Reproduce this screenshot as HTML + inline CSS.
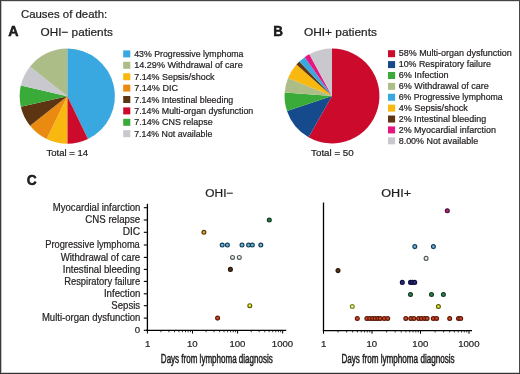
<!DOCTYPE html>
<html><head><meta charset="utf-8"><style>
html,body{margin:0;padding:0;background:#fff;}
svg{display:block;will-change:transform;}
text{font-family:"Liberation Sans", sans-serif;fill:#231f20;stroke:#231f20;stroke-width:0.22px;}
</style></head><body>
<svg width="520" height="374" viewBox="0 0 520 374">

<rect x="0" y="0" width="520" height="374" fill="#fff"/>
<text x="20.92" y="17.85" font-size="11.6" textLength="86.32" lengthAdjust="spacingAndGlyphs">Causes of death:</text>
<text x="8.24" y="36.20" font-size="14.0" textLength="10.33" lengthAdjust="spacingAndGlyphs" font-weight="bold" fill="#000" style="stroke:#000;stroke-width:0.45px">A</text>
<text x="40.55" y="35.60" font-size="11.6" textLength="72.28" lengthAdjust="spacingAndGlyphs">OHI− patients</text>
<text x="273.20" y="36.20" font-size="14.6" textLength="9.71" lengthAdjust="spacingAndGlyphs" font-weight="bold" fill="#000" style="stroke:#000;stroke-width:0.45px">B</text>
<text x="303.94" y="35.70" font-size="11.6" textLength="72.99" lengthAdjust="spacingAndGlyphs">OHI+ patients</text>
<path d="M67.30,96.15L67.30,48.50A47.65,47.65 0 0 1 87.97,139.08Z" fill="#3aa8e0"/>
<path d="M67.30,96.15L87.97,139.08A47.65,47.65 0 0 1 67.30,143.80Z" fill="#cc0a2c"/>
<path d="M67.30,96.15L67.30,143.80A47.65,47.65 0 0 1 46.63,139.08Z" fill="#f8b810"/>
<path d="M67.30,96.15L46.63,139.08A47.65,47.65 0 0 1 30.05,125.86Z" fill="#eb8a10"/>
<path d="M67.30,96.15L30.05,125.86A47.65,47.65 0 0 1 20.84,106.75Z" fill="#5e3512"/>
<path d="M67.30,96.15L20.84,106.75A47.65,47.65 0 0 1 20.84,85.55Z" fill="#3aaa38"/>
<path d="M67.30,96.15L20.84,85.55A47.65,47.65 0 0 1 30.05,66.44Z" fill="#c9c8ce"/>
<path d="M67.30,96.15L30.05,66.44A47.65,47.65 0 0 1 67.30,48.50Z" fill="#adbd87"/>
<path d="M332.00,96.00L332.00,48.55A47.45,47.45 0 1 1 308.56,137.26Z" fill="#cc0a2c"/>
<path d="M332.00,96.00L308.56,137.26A47.45,47.45 0 0 1 286.98,110.98Z" fill="#154b8c"/>
<path d="M332.00,96.00L286.98,110.98A47.45,47.45 0 0 1 284.68,92.52Z" fill="#3aaa38"/>
<path d="M332.00,96.00L284.68,92.52A47.45,47.45 0 0 1 288.07,78.07Z" fill="#adbd87"/>
<path d="M332.00,96.00L288.07,78.07A47.45,47.45 0 0 1 296.46,64.56Z" fill="#f8b810"/>
<path d="M332.00,96.00L296.46,64.56A47.45,47.45 0 0 1 299.34,61.58Z" fill="#5e3512"/>
<path d="M332.00,96.00L299.34,61.58A47.45,47.45 0 0 1 304.78,57.13Z" fill="#3aa8e0"/>
<path d="M332.00,96.00L304.78,57.13A47.45,47.45 0 0 1 309.36,54.30Z" fill="#e6157f"/>
<path d="M332.00,96.00L309.36,54.30A47.45,47.45 0 0 1 332.00,48.55Z" fill="#c9c8ce"/>
<rect x="123.2" y="50.40" width="7.1" height="7" fill="#3aa8e0"/>
<text x="134.21" y="57.00" font-size="9.2" textLength="109.29" lengthAdjust="spacingAndGlyphs">43% Progressive lymphoma</text>
<rect x="123.2" y="61.80" width="7.1" height="7" fill="#adbd87"/>
<text x="134.21" y="68.40" font-size="9.2" textLength="108.49" lengthAdjust="spacingAndGlyphs">14.29% Withdrawal of care</text>
<rect x="123.2" y="73.20" width="7.1" height="7" fill="#f8b810"/>
<text x="134.21" y="79.80" font-size="9.2" textLength="80.38" lengthAdjust="spacingAndGlyphs">7.14% Sepsis/shock</text>
<rect x="123.2" y="84.60" width="7.1" height="7" fill="#eb8a10"/>
<text x="134.21" y="91.20" font-size="9.2" textLength="43.84" lengthAdjust="spacingAndGlyphs">7.14% DIC</text>
<rect x="123.2" y="96.00" width="7.1" height="7" fill="#5e3512"/>
<text x="134.22" y="102.60" font-size="9.2" textLength="99.05" lengthAdjust="spacingAndGlyphs">7.14% Intestinal bleeding</text>
<rect x="123.2" y="107.40" width="7.1" height="7" fill="#cc0a2c"/>
<text x="134.22" y="114.00" font-size="9.2" textLength="119.05" lengthAdjust="spacingAndGlyphs">7.14% Multi-organ dysfunction</text>
<rect x="123.2" y="118.80" width="7.1" height="7" fill="#3aaa38"/>
<text x="134.21" y="125.40" font-size="9.2" textLength="78.48" lengthAdjust="spacingAndGlyphs">7.14% CNS relapse</text>
<rect x="123.2" y="130.20" width="7.1" height="7" fill="#c9c8ce"/>
<text x="134.22" y="136.80" font-size="9.2" textLength="78.07" lengthAdjust="spacingAndGlyphs">7.14% Not available</text>
<rect x="388.0" y="50.20" width="7.1" height="7" fill="#cc0a2c"/>
<text x="398.71" y="56.45" font-size="9.2" textLength="113.07" lengthAdjust="spacingAndGlyphs">58% Multi-organ dysfunction</text>
<rect x="388.0" y="61.09" width="7.1" height="7" fill="#154b8c"/>
<text x="398.73" y="67.34" font-size="9.2" textLength="92.17" lengthAdjust="spacingAndGlyphs">10% Respiratory failure</text>
<rect x="388.0" y="71.98" width="7.1" height="7" fill="#3aaa38"/>
<text x="398.71" y="78.23" font-size="9.2" textLength="49.89" lengthAdjust="spacingAndGlyphs">6% Infection</text>
<rect x="388.0" y="82.87" width="7.1" height="7" fill="#adbd87"/>
<text x="398.71" y="89.12" font-size="9.2" textLength="90.09" lengthAdjust="spacingAndGlyphs">6% Withdrawal of care</text>
<rect x="388.0" y="93.76" width="7.1" height="7" fill="#3aa8e0"/>
<text x="398.72" y="100.01" font-size="9.2" textLength="103.98" lengthAdjust="spacingAndGlyphs">6% Progressive lymphoma</text>
<rect x="388.0" y="104.65" width="7.1" height="7" fill="#f8b810"/>
<text x="398.70" y="110.90" font-size="9.2" textLength="69.19" lengthAdjust="spacingAndGlyphs">4% Sepsis/shock</text>
<rect x="388.0" y="115.54" width="7.1" height="7" fill="#5e3512"/>
<text x="398.71" y="121.79" font-size="9.2" textLength="87.46" lengthAdjust="spacingAndGlyphs">2% Intestinal bleeding</text>
<rect x="388.0" y="126.43" width="7.1" height="7" fill="#e6157f"/>
<text x="398.71" y="132.68" font-size="9.2" textLength="97.27" lengthAdjust="spacingAndGlyphs">2% Myocardial infarction</text>
<rect x="388.0" y="137.32" width="7.1" height="7" fill="#c9c8ce"/>
<text x="398.71" y="143.57" font-size="9.2" textLength="79.39" lengthAdjust="spacingAndGlyphs">8.00% Not available</text>
<text x="46.49" y="155.80" font-size="9.3" textLength="41.69" lengthAdjust="spacingAndGlyphs">Total = 14</text>
<text x="311.09" y="155.80" font-size="9.3" textLength="42.60" lengthAdjust="spacingAndGlyphs">Total = 50</text>
<text x="26.84" y="184.90" font-size="14.6" textLength="9.94" lengthAdjust="spacingAndGlyphs" font-weight="bold" fill="#000" style="stroke:#000;stroke-width:0.45px">C</text>
<text x="205.34" y="196.90" font-size="11.7" textLength="28.04" lengthAdjust="spacingAndGlyphs">OHI−</text>
<text x="381.21" y="196.90" font-size="11.7" textLength="29.81" lengthAdjust="spacingAndGlyphs">OHI+</text>
<line x1="147.4" y1="203.8" x2="147.4" y2="331.0" stroke="#000" stroke-width="1.3"/>
<line x1="146.20000000000002" y1="330.35" x2="286.2" y2="330.35" stroke="#000" stroke-width="1.3"/>
<line x1="147.40" y1="330.35" x2="147.40" y2="333.55" stroke="#000" stroke-width="1"/>
<line x1="160.98" y1="330.35" x2="160.98" y2="332.25" stroke="#000" stroke-width="0.8"/>
<line x1="168.92" y1="330.35" x2="168.92" y2="332.25" stroke="#000" stroke-width="0.8"/>
<line x1="174.55" y1="330.35" x2="174.55" y2="332.25" stroke="#000" stroke-width="0.8"/>
<line x1="178.92" y1="330.35" x2="178.92" y2="332.25" stroke="#000" stroke-width="0.8"/>
<line x1="182.49" y1="330.35" x2="182.49" y2="332.25" stroke="#000" stroke-width="0.8"/>
<line x1="185.51" y1="330.35" x2="185.51" y2="332.25" stroke="#000" stroke-width="0.8"/>
<line x1="188.13" y1="330.35" x2="188.13" y2="332.25" stroke="#000" stroke-width="0.8"/>
<line x1="190.44" y1="330.35" x2="190.44" y2="332.25" stroke="#000" stroke-width="0.8"/>
<text x="144.90" y="346.50" font-size="9.6">1</text>
<line x1="192.50" y1="330.35" x2="192.50" y2="333.55" stroke="#000" stroke-width="1"/>
<line x1="206.08" y1="330.35" x2="206.08" y2="332.25" stroke="#000" stroke-width="0.8"/>
<line x1="214.02" y1="330.35" x2="214.02" y2="332.25" stroke="#000" stroke-width="0.8"/>
<line x1="219.65" y1="330.35" x2="219.65" y2="332.25" stroke="#000" stroke-width="0.8"/>
<line x1="224.02" y1="330.35" x2="224.02" y2="332.25" stroke="#000" stroke-width="0.8"/>
<line x1="227.59" y1="330.35" x2="227.59" y2="332.25" stroke="#000" stroke-width="0.8"/>
<line x1="230.61" y1="330.35" x2="230.61" y2="332.25" stroke="#000" stroke-width="0.8"/>
<line x1="233.23" y1="330.35" x2="233.23" y2="332.25" stroke="#000" stroke-width="0.8"/>
<line x1="235.54" y1="330.35" x2="235.54" y2="332.25" stroke="#000" stroke-width="0.8"/>
<text x="186.98" y="346.50" font-size="9.6">10</text>
<line x1="237.60" y1="330.35" x2="237.60" y2="333.55" stroke="#000" stroke-width="1"/>
<line x1="251.18" y1="330.35" x2="251.18" y2="332.25" stroke="#000" stroke-width="0.8"/>
<line x1="259.12" y1="330.35" x2="259.12" y2="332.25" stroke="#000" stroke-width="0.8"/>
<line x1="264.75" y1="330.35" x2="264.75" y2="332.25" stroke="#000" stroke-width="0.8"/>
<line x1="269.12" y1="330.35" x2="269.12" y2="332.25" stroke="#000" stroke-width="0.8"/>
<line x1="272.69" y1="330.35" x2="272.69" y2="332.25" stroke="#000" stroke-width="0.8"/>
<line x1="275.71" y1="330.35" x2="275.71" y2="332.25" stroke="#000" stroke-width="0.8"/>
<line x1="278.33" y1="330.35" x2="278.33" y2="332.25" stroke="#000" stroke-width="0.8"/>
<line x1="280.64" y1="330.35" x2="280.64" y2="332.25" stroke="#000" stroke-width="0.8"/>
<text x="229.42" y="346.50" font-size="9.6">100</text>
<line x1="282.70" y1="330.35" x2="282.70" y2="333.55" stroke="#000" stroke-width="1"/>
<text x="271.85" y="346.50" font-size="9.6">1000</text>
<line x1="143.8" y1="207.70" x2="147.4" y2="207.70" stroke="#000" stroke-width="1.1"/>
<text x="52.82" y="210.80" font-size="10.4" textLength="87.61" lengthAdjust="spacingAndGlyphs">Myocardial infarction</text>
<line x1="143.8" y1="220.00" x2="147.4" y2="220.00" stroke="#000" stroke-width="1.1"/>
<text x="85.21" y="223.10" font-size="10.4" textLength="55.02" lengthAdjust="spacingAndGlyphs">CNS relapse</text>
<line x1="143.8" y1="232.30" x2="147.4" y2="232.30" stroke="#000" stroke-width="1.1"/>
<text x="122.67" y="235.40" font-size="10.4" textLength="17.52" lengthAdjust="spacingAndGlyphs">DIC</text>
<line x1="143.8" y1="245.00" x2="147.4" y2="245.00" stroke="#000" stroke-width="1.1"/>
<text x="45.24" y="248.10" font-size="10.4" textLength="94.57" lengthAdjust="spacingAndGlyphs">Progressive lymphoma</text>
<line x1="143.8" y1="257.40" x2="147.4" y2="257.40" stroke="#000" stroke-width="1.1"/>
<text x="60.65" y="260.50" font-size="10.4" textLength="79.57" lengthAdjust="spacingAndGlyphs">Withdrawal of care</text>
<line x1="143.8" y1="269.40" x2="147.4" y2="269.40" stroke="#000" stroke-width="1.1"/>
<text x="62.81" y="272.50" font-size="10.4" textLength="77.61" lengthAdjust="spacingAndGlyphs">Intestinal bleeding</text>
<line x1="143.8" y1="281.40" x2="147.4" y2="281.40" stroke="#000" stroke-width="1.1"/>
<text x="64.23" y="284.50" font-size="10.4" textLength="75.98" lengthAdjust="spacingAndGlyphs">Respiratory failure</text>
<line x1="143.8" y1="293.80" x2="147.4" y2="293.80" stroke="#000" stroke-width="1.1"/>
<text x="103.91" y="296.90" font-size="10.4" textLength="36.52" lengthAdjust="spacingAndGlyphs">Infection</text>
<line x1="143.8" y1="305.70" x2="147.4" y2="305.70" stroke="#000" stroke-width="1.1"/>
<text x="111.36" y="308.80" font-size="10.4" textLength="28.79" lengthAdjust="spacingAndGlyphs">Sepsis</text>
<line x1="143.8" y1="318.10" x2="147.4" y2="318.10" stroke="#000" stroke-width="1.1"/>
<text x="41.92" y="321.20" font-size="10.4" textLength="98.50" lengthAdjust="spacingAndGlyphs">Multi-organ dysfunction</text>
<line x1="143.8" y1="330.30" x2="147.4" y2="330.30" stroke="#000" stroke-width="1.1"/>
<text x="134.84" y="333.40" font-size="9.6">0</text>
<line x1="323.5" y1="202.5" x2="323.5" y2="331.2" stroke="#000" stroke-width="1.3"/>
<line x1="322.85" y1="330.55" x2="472.0" y2="330.55" stroke="#000" stroke-width="1.3"/>
<line x1="323.50" y1="330.55" x2="323.50" y2="333.75" stroke="#000" stroke-width="1"/>
<line x1="338.10" y1="330.55" x2="338.10" y2="332.45" stroke="#000" stroke-width="0.8"/>
<line x1="346.64" y1="330.55" x2="346.64" y2="332.45" stroke="#000" stroke-width="0.8"/>
<line x1="352.70" y1="330.55" x2="352.70" y2="332.45" stroke="#000" stroke-width="0.8"/>
<line x1="357.40" y1="330.55" x2="357.40" y2="332.45" stroke="#000" stroke-width="0.8"/>
<line x1="361.24" y1="330.55" x2="361.24" y2="332.45" stroke="#000" stroke-width="0.8"/>
<line x1="364.49" y1="330.55" x2="364.49" y2="332.45" stroke="#000" stroke-width="0.8"/>
<line x1="367.30" y1="330.55" x2="367.30" y2="332.45" stroke="#000" stroke-width="0.8"/>
<line x1="369.78" y1="330.55" x2="369.78" y2="332.45" stroke="#000" stroke-width="0.8"/>
<text x="321.00" y="346.50" font-size="9.6">1</text>
<line x1="372.00" y1="330.55" x2="372.00" y2="333.75" stroke="#000" stroke-width="1"/>
<line x1="386.60" y1="330.55" x2="386.60" y2="332.45" stroke="#000" stroke-width="0.8"/>
<line x1="395.14" y1="330.55" x2="395.14" y2="332.45" stroke="#000" stroke-width="0.8"/>
<line x1="401.20" y1="330.55" x2="401.20" y2="332.45" stroke="#000" stroke-width="0.8"/>
<line x1="405.90" y1="330.55" x2="405.90" y2="332.45" stroke="#000" stroke-width="0.8"/>
<line x1="409.74" y1="330.55" x2="409.74" y2="332.45" stroke="#000" stroke-width="0.8"/>
<line x1="412.99" y1="330.55" x2="412.99" y2="332.45" stroke="#000" stroke-width="0.8"/>
<line x1="415.80" y1="330.55" x2="415.80" y2="332.45" stroke="#000" stroke-width="0.8"/>
<line x1="418.28" y1="330.55" x2="418.28" y2="332.45" stroke="#000" stroke-width="0.8"/>
<text x="366.48" y="346.50" font-size="9.6">10</text>
<line x1="420.50" y1="330.55" x2="420.50" y2="333.75" stroke="#000" stroke-width="1"/>
<line x1="435.10" y1="330.55" x2="435.10" y2="332.45" stroke="#000" stroke-width="0.8"/>
<line x1="443.64" y1="330.55" x2="443.64" y2="332.45" stroke="#000" stroke-width="0.8"/>
<line x1="449.70" y1="330.55" x2="449.70" y2="332.45" stroke="#000" stroke-width="0.8"/>
<line x1="454.40" y1="330.55" x2="454.40" y2="332.45" stroke="#000" stroke-width="0.8"/>
<line x1="458.24" y1="330.55" x2="458.24" y2="332.45" stroke="#000" stroke-width="0.8"/>
<line x1="461.49" y1="330.55" x2="461.49" y2="332.45" stroke="#000" stroke-width="0.8"/>
<line x1="464.30" y1="330.55" x2="464.30" y2="332.45" stroke="#000" stroke-width="0.8"/>
<line x1="466.78" y1="330.55" x2="466.78" y2="332.45" stroke="#000" stroke-width="0.8"/>
<text x="412.32" y="346.50" font-size="9.6">100</text>
<line x1="469.00" y1="330.55" x2="469.00" y2="333.75" stroke="#000" stroke-width="1"/>
<text x="458.15" y="346.50" font-size="9.6">1000</text>
<circle cx="269.30" cy="220.00" r="1.95" fill="#2a7a45" stroke="#123a20" stroke-width="1.15"/>
<circle cx="203.90" cy="232.30" r="1.95" fill="#d8a035" stroke="#5a3c0a" stroke-width="1.15"/>
<circle cx="222.20" cy="245.00" r="1.95" fill="#72b4d8" stroke="#123d58" stroke-width="1.15"/>
<circle cx="227.40" cy="245.00" r="1.95" fill="#72b4d8" stroke="#123d58" stroke-width="1.15"/>
<circle cx="242.00" cy="245.00" r="1.95" fill="#72b4d8" stroke="#123d58" stroke-width="1.15"/>
<circle cx="248.60" cy="245.00" r="1.95" fill="#72b4d8" stroke="#123d58" stroke-width="1.15"/>
<circle cx="252.30" cy="245.00" r="1.95" fill="#72b4d8" stroke="#123d58" stroke-width="1.15"/>
<circle cx="260.80" cy="245.00" r="1.95" fill="#72b4d8" stroke="#123d58" stroke-width="1.15"/>
<circle cx="232.50" cy="257.40" r="1.95" fill="#eef2ee" stroke="#4f5a55" stroke-width="1.15"/>
<circle cx="239.30" cy="257.40" r="1.95" fill="#eef2ee" stroke="#4f5a55" stroke-width="1.15"/>
<circle cx="230.40" cy="269.40" r="1.95" fill="#5a3516" stroke="#22140a" stroke-width="1.15"/>
<circle cx="249.80" cy="305.70" r="1.95" fill="#ecec30" stroke="#5a5a08" stroke-width="1.15"/>
<circle cx="217.60" cy="318.10" r="1.95" fill="#d44a22" stroke="#5a180a" stroke-width="1.15"/>
<circle cx="447.30" cy="210.80" r="1.95" fill="#b0287a" stroke="#4a0c34" stroke-width="1.15"/>
<circle cx="414.80" cy="246.60" r="1.95" fill="#72b4d8" stroke="#123d58" stroke-width="1.15"/>
<circle cx="433.40" cy="246.60" r="1.95" fill="#72b4d8" stroke="#123d58" stroke-width="1.15"/>
<circle cx="426.10" cy="258.40" r="1.95" fill="#eef2ee" stroke="#4f5a55" stroke-width="1.15"/>
<circle cx="338.00" cy="270.60" r="1.95" fill="#5a3516" stroke="#22140a" stroke-width="1.15"/>
<circle cx="402.30" cy="282.40" r="1.95" fill="#2c2c78" stroke="#0e0e40" stroke-width="1.15"/>
<circle cx="410.50" cy="282.40" r="1.95" fill="#2c2c78" stroke="#0e0e40" stroke-width="1.15"/>
<circle cx="412.50" cy="282.40" r="1.95" fill="#2c2c78" stroke="#0e0e40" stroke-width="1.15"/>
<circle cx="414.70" cy="282.40" r="1.95" fill="#2c2c78" stroke="#0e0e40" stroke-width="1.15"/>
<circle cx="410.50" cy="294.50" r="1.95" fill="#2f8a55" stroke="#123a22" stroke-width="1.15"/>
<circle cx="431.50" cy="294.50" r="1.95" fill="#2f8a55" stroke="#123a22" stroke-width="1.15"/>
<circle cx="443.40" cy="294.50" r="1.95" fill="#2f8a55" stroke="#123a22" stroke-width="1.15"/>
<circle cx="352.30" cy="306.50" r="1.95" fill="#f2f4b0" stroke="#7a8210" stroke-width="1.15"/>
<circle cx="438.40" cy="306.50" r="1.95" fill="#ecec30" stroke="#5a5a08" stroke-width="1.15"/>
<circle cx="357.30" cy="318.50" r="1.95" fill="#d44a22" stroke="#5a180a" stroke-width="1.15"/>
<circle cx="366.90" cy="318.50" r="1.95" fill="#d44a22" stroke="#5a180a" stroke-width="1.15"/>
<circle cx="369.80" cy="318.50" r="1.95" fill="#d44a22" stroke="#5a180a" stroke-width="1.15"/>
<circle cx="372.70" cy="318.50" r="1.95" fill="#d44a22" stroke="#5a180a" stroke-width="1.15"/>
<circle cx="375.20" cy="318.50" r="1.95" fill="#d44a22" stroke="#5a180a" stroke-width="1.15"/>
<circle cx="377.90" cy="318.50" r="1.95" fill="#d44a22" stroke="#5a180a" stroke-width="1.15"/>
<circle cx="380.20" cy="318.50" r="1.95" fill="#d44a22" stroke="#5a180a" stroke-width="1.15"/>
<circle cx="384.20" cy="318.50" r="1.95" fill="#d44a22" stroke="#5a180a" stroke-width="1.15"/>
<circle cx="387.70" cy="318.50" r="1.95" fill="#d44a22" stroke="#5a180a" stroke-width="1.15"/>
<circle cx="405.80" cy="318.50" r="1.95" fill="#d44a22" stroke="#5a180a" stroke-width="1.15"/>
<circle cx="410.80" cy="318.50" r="1.95" fill="#d44a22" stroke="#5a180a" stroke-width="1.15"/>
<circle cx="413.90" cy="318.50" r="1.95" fill="#d44a22" stroke="#5a180a" stroke-width="1.15"/>
<circle cx="418.60" cy="318.50" r="1.95" fill="#d44a22" stroke="#5a180a" stroke-width="1.15"/>
<circle cx="421.40" cy="318.50" r="1.95" fill="#d44a22" stroke="#5a180a" stroke-width="1.15"/>
<circle cx="424.60" cy="318.50" r="1.95" fill="#d44a22" stroke="#5a180a" stroke-width="1.15"/>
<circle cx="427.10" cy="318.50" r="1.95" fill="#d44a22" stroke="#5a180a" stroke-width="1.15"/>
<circle cx="433.30" cy="318.50" r="1.95" fill="#d44a22" stroke="#5a180a" stroke-width="1.15"/>
<circle cx="436.60" cy="318.50" r="1.95" fill="#d44a22" stroke="#5a180a" stroke-width="1.15"/>
<circle cx="449.70" cy="318.50" r="1.95" fill="#d44a22" stroke="#5a180a" stroke-width="1.15"/>
<circle cx="458.50" cy="318.50" r="1.95" fill="#d44a22" stroke="#5a180a" stroke-width="1.15"/>
<circle cx="460.70" cy="318.50" r="1.95" fill="#d44a22" stroke="#5a180a" stroke-width="1.15"/>
<text x="160.84" y="362.50" font-size="12.0" textLength="111.95" lengthAdjust="spacingAndGlyphs" style="stroke-width:0.5px">Days from lymphoma diagnosis</text>
<text x="341.43" y="362.50" font-size="12.0" textLength="113.26" lengthAdjust="spacingAndGlyphs" style="stroke-width:0.5px">Days from lymphoma diagnosis</text>
<rect x="0" y="1" width="520" height="1" fill="#dcdcdc"/>
<rect x="1" y="0" width="1" height="374" fill="#c4c4c4"/>
<rect x="0" y="372" width="520" height="1" fill="#d0d0d0"/>
<rect x="0" y="0" width="520" height="1" fill="#444"/>
<rect x="0" y="0" width="1" height="374" fill="#383838"/>
<rect x="519" y="0" width="1" height="374" fill="#484848"/>
<rect x="0" y="373" width="520" height="1" fill="#333"/>

</svg>
</body></html>
